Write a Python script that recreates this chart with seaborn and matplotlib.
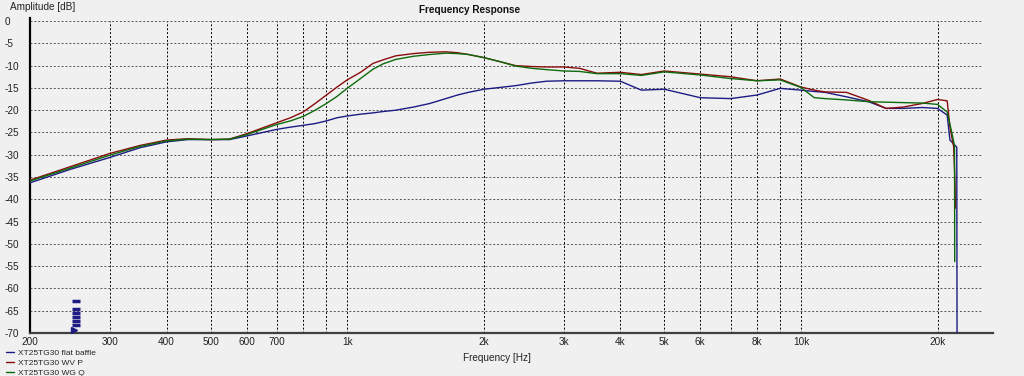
import numpy as np
import pandas as pd
import matplotlib.pyplot as plt
import seaborn as sns

# frequency grid (Hz) shared by the three measurements
freq = [200, 245, 300, 350, 400, 445, 500, 550, 600, 700, 750, 800, 850, 900, 950, 1000,
        1070, 1140, 1200, 1280, 1400, 1520, 1650, 1750, 1850, 2000, 2170, 2350, 2550, 2750,
        3000, 3250, 3550, 4000, 4450, 5000, 6000, 7000, 8000, 9000, 10000, 10700, 11300,
        12600, 14100, 15400, 16800, 18500, 20000, 21000]

db_flat = [-36.3, -33.3, -30.6, -28.4, -27.1, -26.6, -26.6, -26.6, -25.8, -24.3, -23.8, -23.4,
           -23.0, -22.4, -21.7, -21.3, -20.9, -20.6, -20.3, -20.0, -19.3, -18.5, -17.4, -16.6,
           -16.0, -15.3, -14.9, -14.5, -13.9, -13.5, -13.4, -13.4, -13.4, -13.5, -15.5, -15.3,
           -17.2, -17.4, -16.6, -15.1, -15.5, -15.8, -16.0, -17.0, -18.1, -19.6, -19.6, -19.4,
           -19.6, -21.1]
db_wvp = [-35.7, -32.7, -29.7, -27.9, -26.7, -26.4, -26.6, -26.5, -25.3, -22.8, -21.7, -20.4,
          -18.5, -16.6, -14.8, -13.2, -11.5, -9.5, -8.7, -7.8, -7.3, -7.0, -6.9, -7.1,
          -7.5, -8.2, -9.1, -10.0, -10.2, -10.3, -10.3, -10.6, -11.7, -11.5, -12.0, -11.2,
          -11.9, -12.5, -13.4, -13.0, -14.8, -15.5, -15.9, -16.0, -17.8, -19.6, -19.3, -18.5,
          -17.6, -17.9]
db_wgq = [-35.9, -33.0, -30.1, -28.1, -26.9, -26.5, -26.6, -26.5, -25.5, -23.2, -22.4, -21.4,
          -20.0, -18.5, -16.9, -15.1, -12.9, -10.8, -9.6, -8.6, -7.9, -7.5, -7.2, -7.3,
          -7.5, -8.2, -9.1, -10.1, -10.6, -10.9, -11.2, -11.3, -11.8, -11.8, -12.2, -11.4,
          -12.1, -12.9, -13.4, -13.2, -14.9, -17.2, -17.4, -17.7, -18.1, -18.2, -18.3, -18.4,
          -18.7, -20.4]

# steep roll-off at the top end
tail_freq_flat = [21300, 22050, 22080]
tail_db_flat = [-26.7, -28.3, -70.0]
tail_freq_wvp = [21300, 21700, 21850, 21900]
tail_db_wvp = [-23.8, -28.2, -36.0, -42.0]
tail_freq_wgq = [21500, 21800, 21820]
tail_db_wgq = [-25.0, -28.0, -54.0]

# little marker stack near 250 Hz
mark_freq = [252, 252, 252, 252, 252, 252]
mark_db = [-62.9, -64.7, -65.6, -66.5, -67.2, -68.1]
arrow_freq = [250]
arrow_db = [-69.4]

labels = ['XT25TG30 flat baffle', 'XT25TG30 WV P', 'XT25TG30 WG Q']
colors = ['#1c1c84', '#8a0c0c', '#0d6a0d']

bg = '#f0f0f0'
sns.set_style('white', {'axes.facecolor': bg, 'figure.facecolor': bg})
plt.rcParams['font.family'] = ['Liberation Sans', 'DejaVu Sans']

fig = plt.figure(figsize=(10.24, 3.76), dpi=100)
ax = fig.add_axes([30 / 1024, 43 / 376, 963 / 1024, (333 - 17.5) / 376])

series = [(freq + tail_freq_flat, db_flat + tail_db_flat),
          (freq + tail_freq_wvp, db_wvp + tail_db_wvp),
          (freq + tail_freq_wgq, db_wgq + tail_db_wgq)]
for (f, d), lab, c in zip(series, labels, colors):
    df = pd.DataFrame({'freq': f, 'db': d})
    sns.lineplot(data=df, x='freq', y='db', ax=ax, color=c, lw=1.0,
                 estimator=None, sort=False, label=lab, zorder=3)

ax.plot(mark_freq, mark_db, ls='none', marker='_', ms=6, mew=2.5, color='#1c1c84', zorder=4)
ax.plot(arrow_freq, arrow_db, ls='none', marker='>', ms=5, color='#1c1c84', zorder=4,
        clip_on=False)

ax.set_xscale('log')
ax.set_xlim(200, 26500)
ax.set_ylim(-70, 0.8)

grid_x = [300, 400, 500, 600, 700, 800, 900, 1000, 2000, 3000, 4000, 5000, 6000,
          7000, 8000, 9000, 10000, 20000]
tick_x = [200, 300, 400, 500, 600, 700, 800, 900, 1000, 2000, 3000, 4000, 5000, 6000,
          7000, 8000, 9000, 10000, 20000]
tick_lab = ['200', '300', '400', '500', '600', '700', '', '', '1k', '2k', '3k', '4k', '5k',
            '6k', '', '8k', '', '10k', '20k']
ax.xaxis.set_minor_locator(plt.NullLocator())
ax.set_xticks(tick_x)
ax.set_xticklabels(tick_lab)
yt = list(range(-70, 1, 5))
ax.set_yticks(yt)
ax.set_yticklabels([str(v) for v in yt])

for v in grid_x:
    ax.axvline(v, ymax=70 / 70.8, color='black', ls=(0, (2, 2)), lw=0.7, zorder=1)
for v in yt[1:]:
    ax.axhline(v, xmax=0.9875, color='#555555', ls=(0, (2, 2)), lw=0.7, zorder=1)

ax.tick_params(axis='both', length=0, labelsize=7.2, colors='#222222')
ax.tick_params(axis='y', pad=18)
for t in ax.get_yticklabels():
    t.set_ha('left')
ax.tick_params(axis='x', pad=3)

sns.despine(ax=ax, top=True, right=True)
ax.spines['left'].set_color('black')
ax.spines['left'].set_linewidth(1.6)
ax.spines['bottom'].set_color('#404040')
ax.spines['bottom'].set_linewidth(1.6)
ax.set_xlabel('')
ax.set_ylabel('')

ax.legend(loc='lower left', bbox_to_anchor=(2 / 1024, -5 / 376), bbox_transform=fig.transFigure,
          frameon=False, fontsize=6, handlelength=0.9, handletextpad=0.5,
          labelspacing=0.25, borderpad=0.0)

fig.text(470 / 1024, 1 - 10 / 376, 'Frequency Response', ha='center', va='center',
         fontsize=7.2, fontweight='bold', color='#111111')
fig.text(10 / 1024, 1 - 7 / 376, 'Amplitude [dB]', ha='left', va='center', fontsize=7.2,
         color='#222222')
fig.text(497 / 1024, 1 - 358 / 376, 'Frequency [Hz]', ha='center', va='center', fontsize=7.2,
         color='#222222')

fig.savefig('out.png', dpi=100, facecolor=bg)
